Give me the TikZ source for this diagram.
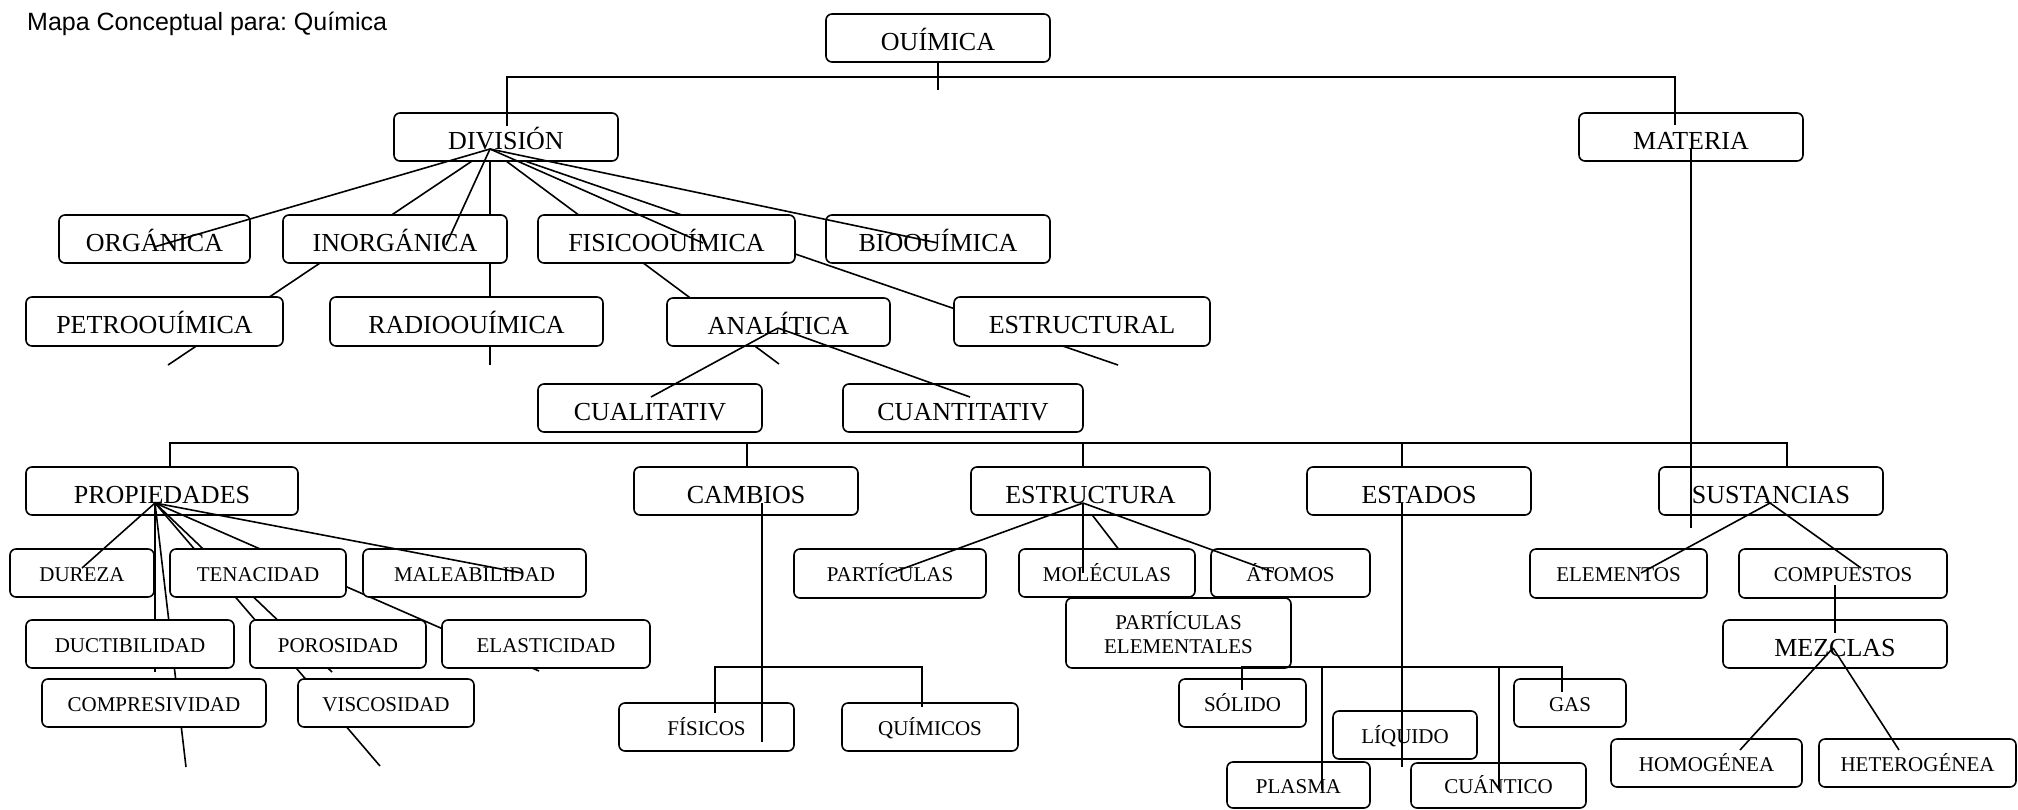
\documentclass[tikz,border=0pt]{standalone}
\usepackage{fontspec}
\setmainfont{Liberation Serif}
\newfontfamily\titlefont{Liberation Sans}
\frenchspacing
\newcommand\qbox[7]{\node[#1,minimum width={(#5-#3)*1pt},minimum height={(#6-#4)*1pt}] (#2) at ({(#3+#5)/2},{(#4+#6)/2}) {#7};}
\tikzset{
  box/.style={draw, line width=1.6pt, rounded corners=6pt, fill=white, inner sep=0pt, anchor=center},
  big/.style={box, font=\fontsize{26}{30}\selectfont, text height=24pt, text depth=0pt},
  small/.style={box, font=\fontsize{21}{24}\selectfont, text height=16pt, text depth=0pt},
  twoline/.style={box, font=\fontsize{21}{24}\selectfont, align=center},
  ln/.style={line width=1.6pt},
}
\begin{document}
\begin{tikzpicture}[x=1pt,y=-1pt]
\useasboundingbox (0,0) rectangle (2018,809);
\node[anchor=base west, inner sep=0pt, font=\titlefont\fontsize{25}{29}\selectfont] (title) at (27,30) {Mapa Conceptual para: Química};

% origins of fans
\coordinate (o1) at (490,149);
\coordinate (o2) at (155,503);
\coordinate (o3) at (1083,503);
\coordinate (o4) at (778,328);
\coordinate (o5) at (1770,503);
\coordinate (o6) at (1833,648);

\qbox{big}{prop}{26}{467}{298}{515}{PROPIEDADES}

% lines hidden under boxes
\draw[ln] (o1) -- (168,365) coordinate (e1);
\draw[ln] (o1) -- (490,365) coordinate (e2);
\draw[ln] (o1) -- (779,364) coordinate (e3);
\draw[ln] (o1) -- (1118,365) coordinate (e4);
\draw[ln] (o2) -- (155,672) coordinate (e5);
\draw[ln] (o2) -- (186,767) coordinate (e6);
\draw[ln] (o2) -- (380,766) coordinate (e7);
\draw[ln] (o2) -- (332,672) coordinate (e8);
\draw[ln] (o2) -- (539,671) coordinate (e9);
\draw[ln] (o3) -- (1150,590) coordinate (e10);

% boxes
\qbox{big}{q}{826}{14}{1050}{62}{OUÍMICA}
\qbox{big}{div}{394}{113}{618}{161}{DIVISIÓN}
\qbox{big}{mat}{1579}{113}{1803}{161}{MATERIA}
\qbox{big}{org}{59}{215}{250}{263}{ORGÁNICA}
\qbox{big}{inorg}{283}{215}{507}{263}{INORGÁNICA}
\qbox{big}{fis}{538}{215}{795}{263}{FISICOOUÍMICA}
\qbox{big}{bio}{826}{215}{1050}{263}{BIOOUÍMICA}
\qbox{big}{petro}{26}{297}{283}{346}{PETROOUÍMICA}
\qbox{big}{radio}{330}{297}{603}{346}{RADIOOUÍMICA}
\qbox{big}{anal}{667}{298}{890}{346}{ANALÍTICA}
\qbox{big}{estl}{954}{297}{1210}{346}{ESTRUCTURAL}
\qbox{big}{cual}{538}{384}{762}{432}{CUALITATIV}
\qbox{big}{cuan}{843}{384}{1083}{432}{CUANTITATIV}
\qbox{big}{camb}{634}{467}{858}{515}{CAMBIOS}
\qbox{big}{estr}{971}{467}{1210}{515}{ESTRUCTURA}
\qbox{big}{esta}{1307}{467}{1531}{515}{ESTADOS}
\qbox{big}{sust}{1659}{467}{1883}{515}{SUSTANCIAS}
\qbox{small}{dur}{10}{549}{154}{597}{DUREZA}
\qbox{small}{ten}{170}{549}{346}{597}{TENACIDAD}
\qbox{small}{mal}{363}{549}{586}{597}{MALEABILIDAD}
\qbox{small}{duc}{26}{620}{234}{668}{DUCTIBILIDAD}
\qbox{small}{por}{250}{620}{426}{668}{POROSIDAD}
\qbox{small}{ela}{442}{620}{650}{668}{ELASTICIDAD}
\qbox{small}{comp}{42}{679}{266}{727}{COMPRESIVIDAD}
\qbox{small}{visc}{298}{679}{474}{727}{VISCOSIDAD}
\qbox{small}{fisi}{619}{703}{794}{751}{FÍSICOS}
\qbox{small}{quim}{842}{703}{1018}{751}{QUÍMICOS}
\qbox{small}{part}{794}{549}{986}{598}{PARTÍCULAS}
\qbox{small}{mol}{1019}{549}{1195}{597}{MOLÉCULAS}
\qbox{small}{ato}{1211}{549}{1370}{597}{ÁTOMOS}
\qbox{twoline}{pe}{1066}{598}{1291}{668}{PARTÍCULAS\\ELEMENTALES}
\qbox{small}{sol}{1179}{679}{1306}{727}{SÓLIDO}
\qbox{small}{liq}{1333}{711}{1477}{759}{LÍQUIDO}
\qbox{small}{gas}{1514}{679}{1626}{727}{GAS}
\qbox{small}{plas}{1227}{762}{1370}{808}{PLASMA}
\qbox{small}{cuant}{1411}{763}{1586}{808}{CUÁNTICO}
\qbox{small}{ele}{1530}{549}{1707}{598}{ELEMENTOS}
\qbox{small}{compu}{1739}{549}{1947}{598}{COMPUESTOS}
\qbox{big}{mez}{1723}{620}{1947}{668}{MEZCLAS}
\qbox{small}{homo}{1611}{739}{1802}{787}{HOMOGÉNEA}
\qbox{small}{hete}{1819}{739}{2016}{787}{HETEROGÉNEA}

% lines over boxes
\draw[ln] (q.south) -- (938,90);
\draw[ln] (507,126) -- (507,77) -- (1675,77) -- (1675,125);
\draw[ln] (o1) -- (154,247);
\draw[ln] (o1) -- (446,245);
\draw[ln] (o1) -- (703,243);
\draw[ln] (o1) -- (938,243);
\draw[ln] (o4) -- (651,397);
\draw[ln] (o4) -- (970,397);
\draw[ln] (170,467) -- (170,443) -- (1787,443) -- (1787,467);
\draw[ln] (747,443) -- (747,467);
\draw[ln] (1083,443) -- (1083,467);
\draw[ln] (1402,443) -- (1402,467);
\draw[ln] (762,503) -- (762,742);
\draw[ln] (715,713) -- (715,667) -- (922,667) -- (922,707);
\draw[ln] (o2) -- (82,568);
\draw[ln] (o2) -- (522,573);
\draw[ln] (o3) -- (891,573);
\draw[ln] (o3) -- (1083,573);
\draw[ln] (o3) -- (1273,572);
\draw[ln] (1402,503) -- (1402,767);
\draw[ln] (1242,690) -- (1242,667) -- (1562,667) -- (1562,692);
\draw[ln] (1322,667) -- (1322,790);
\draw[ln] (1499,667) -- (1499,790);
\draw[ln] (1691,149) -- (1691,528);
\draw[ln] (o5) -- (1641,573);
\draw[ln] (o5) -- (1861,568);
\draw[ln] (1835,585) -- (1835,633);
\draw[ln] (o6) -- (1740,750);
\draw[ln] (o6) -- (1899,750);
\end{tikzpicture}
\end{document}
